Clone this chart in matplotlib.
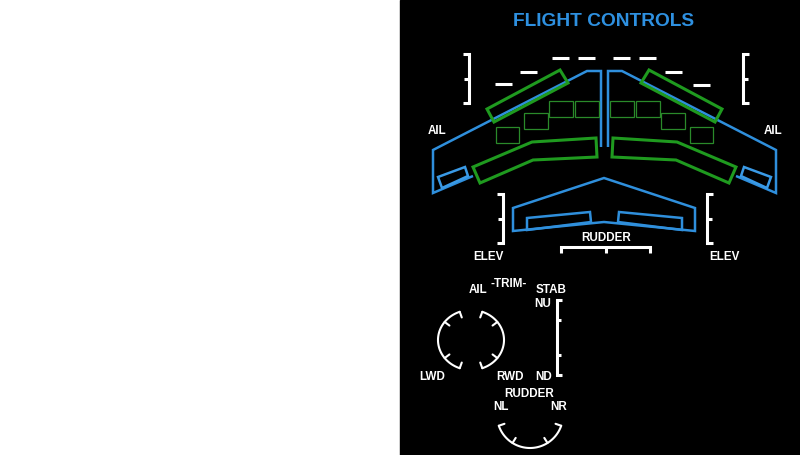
import numpy as np
import matplotlib
matplotlib.use("Agg")
import matplotlib.pyplot as plt
from matplotlib.patches import Polygon, Rectangle

plt.rcParams['font.family'] = ['Liberation Sans', 'DejaVu Sans']

# ---- synoptic geometry (screen pixels, left half; right half is mirrored) ----
MIRROR_X = 604.5

wing_outline = [(601, 147), (601, 71), (587, 71), (433, 150), (433, 193), (473, 176)]
aileron_box = [(438, 177), (465, 167), (468, 176), (442, 188)]
flap = [(473, 167), (532, 142), (596, 138), (597, 157), (533, 160), (480, 183)]
spoiler_bar = [(487, 109), (560, 70), (568, 83), (494, 122)]
spoiler_boxes = [(496, 127, 23, 16), (524, 113, 24, 16), (549, 101, 24, 16), (575, 101, 24, 16)]

# flap position dashes (x0, x1, y)
dashes_left = [(495, 512, 84), (520, 537, 72), (552, 569, 58), (578, 595, 58)]
dashes_right = [(613, 630, 58), (639, 656, 58), (665, 682, 72), (693, 710, 85)]

stab_outline = [(513, 231), (513, 208), (604, 178), (695, 208), (695, 231), (604, 222)]
elevator = [(527, 230), (527, 218), (590, 212), (591, 222)]

# brackets: (x_spine, x_arm, y_top, y_bottom, tick ys)
brackets = [
    (469, 463, 54, 103, [79]),
    (743, 749, 54, 103, [79]),
    (503, 497, 194, 243, [219]),
    (707, 713, 194, 243, [219]),
    (557, 562, 300, 375, [320, 355]),
]

# rudder position scale
rudder_scale_x = (561, 650)
rudder_scale_y = (247, 253)

# trim indicators
ail_trim_center = (471, 340)
ail_trim_radii = (33, 30)
ail_trim_end_deg = 70
ail_trim_tick_deg = 37
rud_trim_center = (530, 415)
rud_trim_radius = 33
rud_trim_end_deg = 19
rud_trim_tick_deg = 58

labels = [
    ("AIL", 437, 130), ("AIL", 773, 130),
    ("ELEV", 488, 256), ("ELEV", 724, 256),
    ("RUDDER", 606, 237),
    ("-TRIM-", 509, 283), ("AIL", 478, 289), ("STAB", 551, 289),
    ("NU", 543, 303), ("ND", 544, 376),
    ("LWD", 432, 376), ("RWD", 510, 376),
    ("RUDDER", 529, 393), ("NL", 501, 406), ("NR", 559, 406),
]

BLUE = '#2f8fdc'
GREEN = '#1f9a1f'
GREEN_DIM = '#2a8a2a'


def mirror(pts):
    return [(2 * MIRROR_X - x, y) for x, y in pts]


def poly(ax, pts, color, lw, closed=True):
    ax.add_patch(Polygon(pts, closed=closed, fill=False, edgecolor=color,
                         linewidth=lw, joinstyle='miter'))


def ellipse_pt(c, rx, ry, deg):
    t = np.radians(deg)
    return c[0] + rx * np.cos(t), c[1] - ry * np.sin(t)


def arc(ax, c, rx, ry, a0, a1, lw=1.5):
    t = np.linspace(a0, a1, 60)
    xs = [ellipse_pt(c, rx, ry, a)[0] for a in t]
    ys = [ellipse_pt(c, rx, ry, a)[1] for a in t]
    ax.plot(xs, ys, color='white', lw=lw, solid_capstyle='round')


def radial_tick(ax, c, rx, ry, deg, length=6, lw=1.5):
    x0, y0 = ellipse_pt(c, rx, ry, deg)
    x1, y1 = ellipse_pt(c, rx - length, ry - length, deg)
    ax.plot([x0, x1], [y0, y1], color='white', lw=lw, solid_capstyle='round')


fig = plt.figure(figsize=(8, 4.55), dpi=100, facecolor='white')
ax = fig.add_axes([0, 0, 1, 1])
ax.set_xlim(0, 800)
ax.set_ylim(455, 0)
ax.axis('off')
ax.add_patch(Rectangle((400, 0), 400, 455, color='black', zorder=0))

ax.text(604, 26, "FLIGHT CONTROLS", color='#2e90e0', fontsize=13.8,
        fontweight='bold', ha='center', va='baseline')

# wings
for side in (lambda p: p, mirror):
    poly(ax, side(wing_outline), BLUE, 1.8, closed=False)
    poly(ax, side(aileron_box), '#3a9ae6', 1.8)
    poly(ax, side(flap), GREEN, 2.2)
    poly(ax, side(spoiler_bar), GREEN, 2.2)
    for x, y, w, h in spoiler_boxes:
        pts = [(x, y), (x + w, y), (x + w, y + h), (x, y + h)]
        poly(ax, side(pts), GREEN_DIM, 0.9)

for x0, x1, y in dashes_left + dashes_right:
    ax.plot([x0, x1], [y, y], color='white', lw=2.2, solid_capstyle='butt')

# horizontal stabiliser
poly(ax, stab_outline, BLUE, 1.8)
poly(ax, elevator, BLUE, 1.8)
poly(ax, mirror(elevator), BLUE, 1.8)

for xs, xa, yt, yb, ticks in brackets:
    ax.plot([xa, xs, xs, xa], [yt, yt, yb, yb], color='white', lw=2.2,
            solid_joinstyle='miter', solid_capstyle='butt')
    for ty in ticks:
        ax.plot([xs, xs + (xa - xs) * 0.8], [ty, ty], color='white', lw=2.2,
                solid_capstyle='butt')

rx0, rx1 = rudder_scale_x
ry0, ry1 = rudder_scale_y
ax.plot([rx0, rx0, rx1, rx1], [ry1, ry0, ry0, ry1], color='white', lw=2.2,
        solid_joinstyle='miter', solid_capstyle='butt')
ax.plot([(rx0 + rx1) / 2] * 2, [ry0, ry1], color='white', lw=2.2, solid_capstyle='butt')

# aileron trim
c = ail_trim_center
rx, ry = ail_trim_radii
e, k = ail_trim_end_deg, ail_trim_tick_deg
arc(ax, c, rx, ry, 180 - e, 180 + e)
arc(ax, c, rx, ry, -e, e)
for d in (e, -e, 180 - e, 180 + e, k, -k, 180 - k, 180 + k):
    radial_tick(ax, c, rx, ry, d, length=6)

# rudder trim
c = rud_trim_center
r = rud_trim_radius
e, k = rud_trim_end_deg, rud_trim_tick_deg
arc(ax, c, r, r, 180 + e, 360 - e)
for d in (180 + e, 360 - e, 180 + k, 360 - k):
    radial_tick(ax, c, r, r, d, length=6)

for txt, x, y in labels:
    ax.text(x, y + 4.3, txt, color='white', fontsize=8.4, fontweight='bold',
            ha='center', va='baseline')

fig.savefig('out.png', dpi=100, facecolor='white')
